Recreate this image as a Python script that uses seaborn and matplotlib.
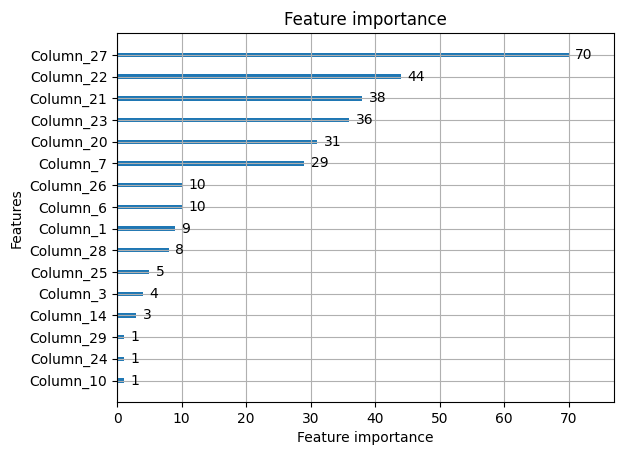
import matplotlib
matplotlib.use("Agg")
import matplotlib.pyplot as plt
import seaborn as sns
import pandas as pd

# Feature importance values (top to bottom)
features = ["Column_27", "Column_22", "Column_21", "Column_23", "Column_20", "Column_7",
            "Column_26", "Column_6", "Column_1", "Column_28", "Column_25", "Column_3",
            "Column_14", "Column_29", "Column_24", "Column_10"]
importance = [70, 44, 38, 36, 31, 29, 10, 10, 9, 8, 5, 4, 3, 1, 1, 1]

df = pd.DataFrame({"feature": features, "importance": importance})

fig, ax = plt.subplots(figsize=(6.23, 4.55), dpi=100)
sns.barplot(data=df, x="importance", y="feature", orient="h", width=0.2,
            color="#1f77b4", saturation=1, ax=ax)

for i, v in enumerate(importance):
    ax.text(v + 1, i, str(v), va="center")

ax.set_xlim(0, max(importance) * 1.1)
ax.set_ylim(len(features), -1)
ax.grid(True)
ax.set_title("Feature importance")
ax.set_xlabel("Feature importance")
ax.set_ylabel("Features")
fig.subplots_adjust(left=0.188, right=0.985, top=0.927, bottom=0.116)
plt.savefig("out.png", dpi=100)
